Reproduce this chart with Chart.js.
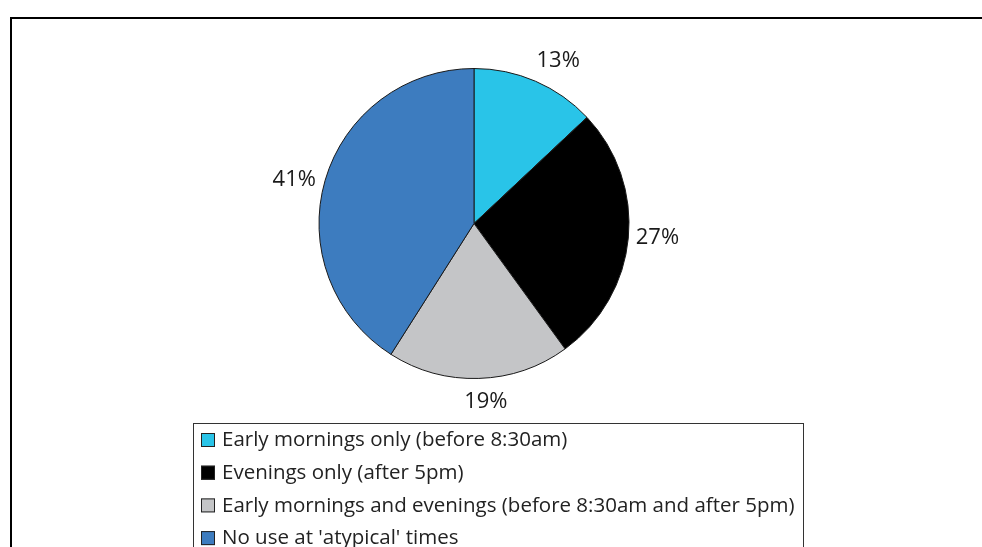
<!DOCTYPE html>
<html>
<head>
<meta charset="utf-8">
<script src="https://cdn.jsdelivr.net/npm/chart.js@4.4.1/dist/chart.umd.min.js"></script>
<style>
html,body{margin:0;padding:0;background:#fff;}
#wrap{position:relative;width:982px;height:547px;}
</style>
</head>
<body>
<div id="wrap"><canvas id="c" width="982" height="547"></canvas></div>
<script>
const categories = [
  "Early mornings only (before 8:30am)",
  "Evenings only (after 5pm)",
  "Early mornings and evenings (before 8:30am and after 5pm)",
  "No use at 'atypical' times"
];
const percentages = [13, 27, 19, 41];
const sliceColors = ["#29C4E8", "#000000", "#C4C5C7", "#3D7CBF"];

const FONT = "'Open Sans', 'Noto Sans', sans-serif";

const framePlugin = {
  id: 'frame',
  beforeDraw(chart) {
    const ctx = chart.ctx;
    ctx.save();
    ctx.fillStyle = '#fff';
    ctx.fillRect(0, 0, chart.width, chart.height);
    ctx.strokeStyle = '#000';
    ctx.lineWidth = 2;
    ctx.beginPath();
    ctx.moveTo(11, chart.height + 5);
    ctx.lineTo(11, 18);
    ctx.lineTo(chart.width + 5, 18);
    ctx.stroke();
    ctx.restore();
  }
};

const labelPlugin = {
  id: 'outLabels',
  afterDatasetsDraw(chart, args, opts) {
    const ctx = chart.ctx;
    const meta = chart.getDatasetMeta(0);
    ctx.save();
    ctx.font = opts.font;
    ctx.fillStyle = opts.color;
    ctx.textAlign = 'center';
    ctx.textBaseline = 'middle';
    meta.data.forEach((arc, i) => {
      const p = arc.getProps(['x', 'y', 'startAngle', 'endAngle', 'outerRadius'], true);
      const mid = (p.startAngle + p.endAngle) / 2 + (opts.shift[i] || 0) * Math.PI / 180;
      const d = p.outerRadius + opts.distance[i];
      const txt = chart.data.datasets[0].data[i] + '%';
      ctx.fillText(txt, p.x + d * Math.cos(mid), p.y + d * Math.sin(mid));
    });
    ctx.restore();
  }
};

const boxLegendPlugin = {
  id: 'boxLegend',
  afterDraw(chart, args, opts) {
    const ctx = chart.ctx;
    ctx.save();
    ctx.strokeStyle = '#333';
    ctx.lineWidth = 1;
    ctx.strokeRect(opts.x + 0.5, opts.y + 0.5, opts.w, opts.h);
    ctx.font = opts.font;
    ctx.textBaseline = 'middle';
    ctx.textAlign = 'left';
    chart.data.labels.forEach((lab, i) => {
      const top = opts.y + opts.firstTop + i * opts.rowH;
      ctx.fillStyle = chart.data.datasets[0].backgroundColor[i];
      ctx.fillRect(opts.x + 8, top, 14, 14);
      ctx.strokeStyle = '#222';
      ctx.lineWidth = 1;
      ctx.strokeRect(opts.x + 8.5, top + 0.5, 13, 13);
      ctx.fillStyle = '#222';
      ctx.fillText(lab, opts.x + 29, top + 7.5);
    });
    ctx.restore();
  }
};

new Chart(document.getElementById('c'), {
  type: 'pie',
  data: {
    labels: categories,
    datasets: [{
      data: percentages,
      backgroundColor: sliceColors,
      borderColor: '#1a1a1a',
      borderWidth: 1
    }]
  },
  options: {
    responsive: false,
    animation: false,
    layout: { padding: { left: 318, right: 352, top: 68, bottom: 168 } },
    plugins: {
      legend: { display: false },
      tooltip: { enabled: false },
      outLabels: { font: "22px " + FONT, color: '#1a1a1a', distance: [28, 29, 24, 30], shift: [4, -1, -2, -2.5] },
      boxLegend: { x: 193, y: 423, w: 610, h: 140, firstTop: 10, rowH: 32.7, font: "20.5px " + FONT }
    }
  },
  plugins: [framePlugin, labelPlugin, boxLegendPlugin]
});
</script>
</body>
</html>
